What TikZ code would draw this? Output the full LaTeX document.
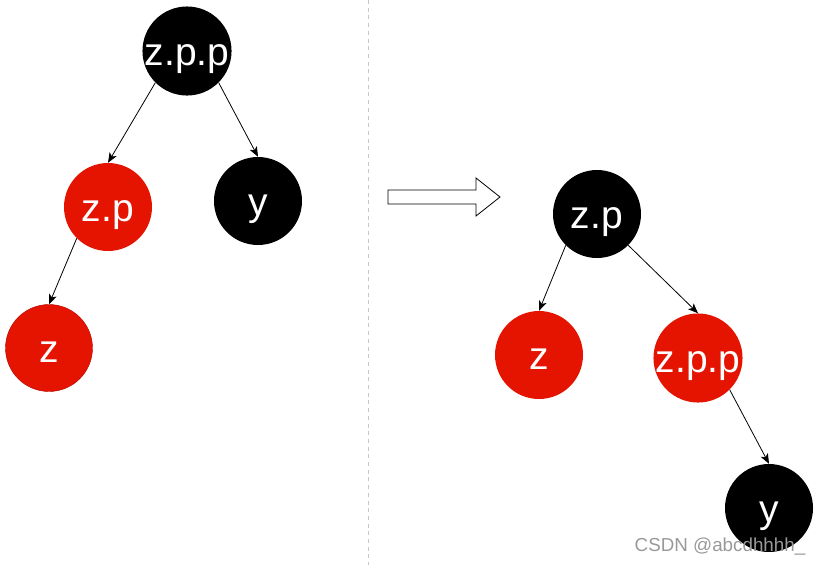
\documentclass[tikz,border=0pt]{standalone}
\usepackage{fontspec}
\setmainfont{Liberation Sans}
\usetikzlibrary{arrows.meta}
\definecolor{rbred}{HTML}{E51400}
\definecolor{rbedge}{HTML}{B20000}
\tikzset{
  rbnode/.style={circle, minimum size=88pt, inner sep=0pt, text=white,
    text height=28pt, text depth=0pt, font=\fontsize{39}{39}\selectfont},
  rednode/.style={rbnode, fill=rbred},
  blacknode/.style={rbnode, fill=black},
  link/.style={line width=0.8pt, -{Stealth[length=10pt,width=8pt,inset=2.5pt]}}
}
\begin{document}
\begin{tikzpicture}[x=1pt, y=-1pt]
  \useasboundingbox (0,0) rectangle (818,565);
  \draw[dash pattern=on 4pt off 3.7pt, color=black!22, line width=1pt] (368,0) -- (368,565);
  % before
  \node[blacknode] (zpp) at (187.000,51.000) {z.p.p};
  \node[rednode] (zp) at (108.000,207.000) {z.p};
  \node[blacknode] (y) at (258.000,201.000) {y};
  \node[rednode, draw=rbedge, minimum size=87pt] (z) at (49.000,348.000) {z};
  \draw[link] (zpp.-135) -- (zp.north);
  \draw[link] (zpp.-45) -- (y.north);
  \draw[link] (zp.-135) -- (z.north);
  % block arrow
  \draw[line width=0.8pt, fill=white] (388,190) -- (476,190) -- (476,178) -- (500,197)
    -- (476,216) -- (476,204) -- (388,204) -- cycle;
  % after
  \node[blacknode] (zp2) at (597.000,214.000) {z.p};
  \node[rednode] (z2) at (539.000,355.000) {z};
  \node[rednode] (zpp2) at (698.000,358.000) {z.p.p};
  \node[blacknode] (y2) at (769.000,508.000) {y};
  \draw[link] (zp2.-135) -- (z2.north);
  \draw[link] (zp2.-45) -- (zpp2.north);
  \draw[link] (zpp2.-45) -- (y2.north);
  \node[text=black!40, font=\fontsize{18.8}{18.8}\selectfont, inner sep=0pt] (mark) at (720.000,547.000) {CSDN @abcdhhhh\_};
\end{tikzpicture}
\end{document}
